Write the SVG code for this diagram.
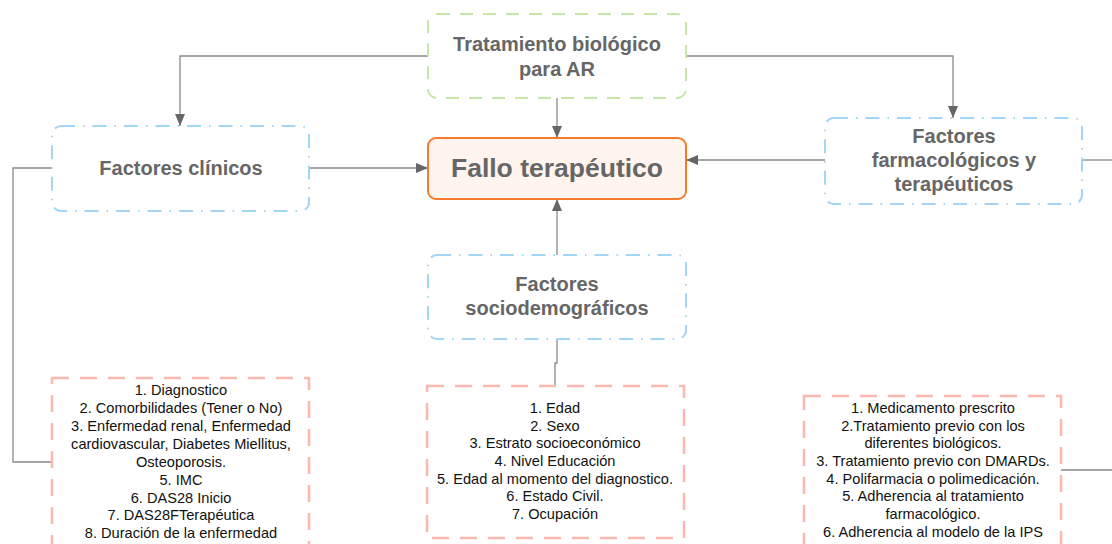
<svg xmlns="http://www.w3.org/2000/svg" width="1112" height="544" viewBox="0 0 1112 544">
<style>
.t{font-family:"Liberation Sans",Arial,sans-serif;font-weight:bold;fill:#666;text-anchor:middle;font-size:20px}
.l{font-family:"Liberation Sans",Arial,sans-serif;fill:#111;text-anchor:middle;font-size:14.6px}
.green{fill:#fff;stroke:#c5e6a6;stroke-width:2;stroke-dasharray:13 10}
.blue{fill:#fff;stroke:#a3d5f5;stroke-width:2;stroke-dasharray:14 8 1.5 8}
.pink{fill:#fff;stroke:#f9b9ae;stroke-width:2.5;stroke-dasharray:17 11}
.c{fill:none;stroke:#8a8a8a;stroke-width:1.3}
</style>
<defs>
<marker id="a" markerWidth="12" markerHeight="12" viewBox="0 0 12 12" refX="12" refY="6" orient="auto" markerUnits="userSpaceOnUse">
<path d="M0,1 L12,6 L0,11 Z" fill="#666"/>
</marker>
</defs>
<g id="connectors">
<path class="c" d="M428,56 H180 V126" marker-end="url(#a)"/>
<path class="c" d="M686,56 H953 V118" marker-end="url(#a)"/>
<path class="c" d="M557,98 V138" marker-end="url(#a)"/>
<path class="c" d="M309,168 H428" marker-end="url(#a)"/>
<path class="c" d="M825,160 H686" marker-end="url(#a)"/>
<path class="c" d="M557,255 V199" marker-end="url(#a)"/>
<path class="c" d="M557,339 V363 H555 V386"/>
<path class="c" d="M52,168 H13 V462 H52"/>
<path class="c" d="M1082,160 H1112"/>
<path class="c" d="M1061,470 H1112"/>
</g>
<g id="tratamiento">
<rect class="green" x="428" y="14" width="258" height="84" rx="9"/>
<text class="t" x="557" y="51">Tratamiento biológico</text>
<text class="t" x="557" y="76">para AR</text>
</g>
<g id="clinicos">
<rect class="blue" x="52" y="126" width="257" height="85" rx="9"/>
<text class="t" x="181" y="175">Factores clínicos</text>
</g>
<g id="fallo">
<rect x="428" y="138" width="258" height="61" rx="8" fill="#fff4ee" stroke="#f57c2c" stroke-width="2"/>
<text class="t" x="557" y="177" style="font-size:26.5px">Fallo terapéutico</text>
</g>
<g id="farmacologicos">
<rect class="blue" x="825" y="118" width="257" height="86" rx="9"/>
<text class="t" x="954" y="143">Factores</text>
<text class="t" x="954" y="167">farmacológicos y</text>
<text class="t" x="954" y="191">terapéuticos</text>
</g>
<g id="sociodemograficos">
<rect class="blue" x="428" y="255" width="258" height="84" rx="9"/>
<text class="t" x="557" y="291">Factores</text>
<text class="t" x="557" y="315">sociodemográficos</text>
</g>
<g id="lista-clinicos">
<rect class="pink" x="52" y="378" width="257" height="180"/>
<text class="l" x="181" y="395">1. Diagnostico</text>
<text class="l" x="181" y="413">2. Comorbilidades (Tener o No)</text>
<text class="l" x="181" y="431">3. Enfermedad renal, Enfermedad</text>
<text class="l" x="181" y="449">cardiovascular, Diabetes Miellitus,</text>
<text class="l" x="181" y="467">Osteoporosis.</text>
<text class="l" x="181" y="485">5. IMC</text>
<text class="l" x="181" y="503">6. DAS28 Inicio</text>
<text class="l" x="181" y="520">7. DAS28FTerapéutica</text>
<text class="l" x="181" y="538">8. Duración de la enfermedad</text>
</g>
<g id="lista-socio">
<rect class="pink" x="427" y="386" width="257" height="152"/>
<text class="l" x="555" y="413">1. Edad</text>
<text class="l" x="555" y="431">2. Sexo</text>
<text class="l" x="555" y="448">3. Estrato socioeconómico</text>
<text class="l" x="555" y="466">4. Nivel Educación</text>
<text class="l" x="555" y="484">5. Edad al momento del diagnostico.</text>
<text class="l" x="555" y="501">6. Estado Civil.</text>
<text class="l" x="555" y="519">7. Ocupación</text>
</g>
<g id="lista-farmaco">
<rect class="pink" x="804" y="396" width="257" height="170"/>
<text class="l" x="933" y="413">1. Medicamento prescrito</text>
<text class="l" x="933" y="431">2.Tratamiento previo con los</text>
<text class="l" x="933" y="448">diferentes biológicos.</text>
<text class="l" x="933" y="466">3. Tratamiento previo con DMARDs.</text>
<text class="l" x="933" y="484">4. Polifarmacia o polimedicación.</text>
<text class="l" x="933" y="501">5. Adherencia al tratamiento</text>
<text class="l" x="933" y="519">farmacológico.</text>
<text class="l" x="933" y="537">6. Adherencia al modelo de la IPS</text>
</g>
</svg>
